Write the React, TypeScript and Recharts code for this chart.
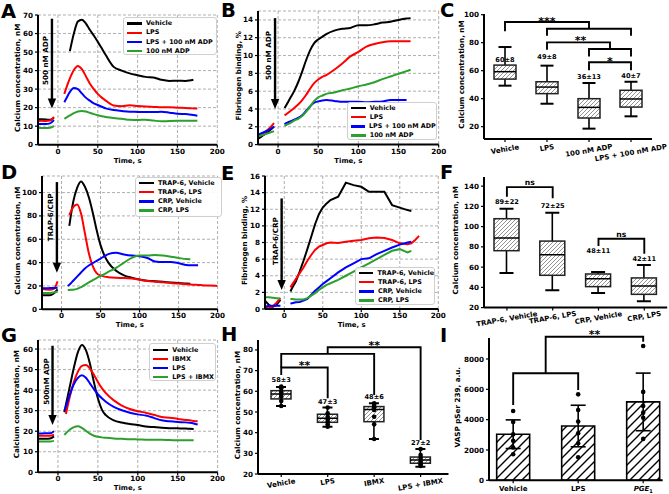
import React from "react";
import {
  LineChart,
  Line,
  ComposedChart,
  Bar,
  Scatter,
  ErrorBar,
  XAxis,
  YAxis,
  CartesianGrid,
  ReferenceLine,
  ReferenceDot,
  Legend,
  Label,
} from "recharts";

const FONT = "'DejaVu Sans', sans-serif";
const _ = null;

// time grid shared by the kinetics panels (s); 0 is the injection gap
const TIME = [-25, -20, -15, -10, -5, 0, 8, 10, 15, 20, 25, 30, 35, 40, 45, 50, 55, 60, 70, 80, 90, 100, 110, 120, 130, 140, 150, 160, 165, 170, 175, 180, 190, 200];

// A: calcium, 500 nM ADP
const A_VEHICLE = [13.7, 13.7, 13.6, 13.4, 14.4, _, _, _, 50.5, 60, 66.5, 67.5, 65.5, 62, 58.9, 55.5, 52, 48.4, 42, 40, 38.5, 37.5, 36.6, 36.3, 35, 34.4, 34.5, 34.4, 34.6, 35, _, _, _, _];
const A_LPS = [12.8, 12.9, 12.8, 13, 15, _, 27.4, 30, 35.8, 40.3, 42.5, 40.8, 37, 33, 30, 27.4, 25.4, 23.8, 21.2, 20.8, 21.3, 20.9, 20.6, 20.4, 20.2, 20.2, 20, 19.8, 19.7, 19.6, 19.5, _, _, _];
const A_LPS_ADP = [11.2, 11.2, 11.2, 11.5, 13.3, _, 22.9, 24.5, 28.5, 30.6, 30, 27.7, 25.4, 23.8, 22.3, 21.4, 20.5, 19.6, 18.7, 18.2, 17.8, 17.7, 17.6, 17.6, 17.8, 17.3, 16.7, 16.5, 16.3, 16, 15.6, _, _, _];
const A_ADP = [9.2, 9, 9, 9.1, 10, _, 14, 14.5, 15.8, 17, 17.9, 18.2, 17.9, 17.2, 16.5, 15.9, 15.4, 15, 14.4, 14, 13.4, 13.3, 13.5, 13, 12.6, 12.8, 12.9, 12.9, 12.9, 12.9, 12.9, _, _, _];

// B: fibrinogen binding, 500 nM ADP
const B_VEHICLE = [0.65, 0.95, 1.25, 1.6, 2.05, _, 4.1, 4.4, 5.2, 6.0, 7.0, 8.2, 9.5, 10.6, 11.4, 11.8, 12.1, 12.4, 12.8, 13.0, 13.1, 13.4, 13.4, 13.5, 13.7, 13.8, 14.0, 14.15, 14.2, _, _, _, _, _];
const B_LPS = [1.0, 1.2, 1.5, 1.9, 2.4, _, 3.3, 3.4, 3.75, 4.1, 4.5, 5.0, 5.6, 6.3, 6.9, 7.3, 7.6, 7.8, 8.4, 9.1, 9.9, 10.4, 11.0, 11.3, 11.5, 11.6, 11.6, 11.6, 11.6, _, _, _, _, _];
const B_LPS_ADP = [1.1, 1.3, 1.5, 1.7, 2.0, _, 2.3, 2.4, 2.6, 2.8, 3.0, 3.3, 3.8, 4.3, 4.7, 4.85, 4.95, 5.0, 4.9, 4.8, 4.8, 4.8, 4.75, 4.8, 4.85, 5.0, 5.0, 5.0, _, _, _, _, _, _];
const B_ADP = [0.9, 1.05, 1.2, 1.35, 1.5, _, 2.1, 2.2, 2.4, 2.7, 2.9, 3.2, 3.7, 4.3, 4.9, 5.3, 5.5, 5.7, 5.85, 6.1, 6.3, 6.55, 6.75, 7.0, 7.35, 7.65, 7.95, 8.25, 8.4, _, _, _, _, _];

// D: calcium, TRAP-6 / CRP
const D_TRAP_VEH = [12, 12, 12, 13.5, 17, _, _, 71.5, 92, 104, 109.5, 105, 96, 83, 68, 55, 46, 40, 33, 29, 27, 25.5, 24.5, 24, 23.5, 23, 22.5, 22, 21.8, _, _, _, _, _];
const D_TRAP_LPS = [17.3, 17, 16.8, 17.5, 24, _, _, 80.6, 87.5, 89.8, 82, 65, 48, 37, 31, 29, 28, 27.5, 27, 26.8, 26.3, 25.3, 24.3, 23.7, 23.2, 22.5, 22, 21.5, 21.2, 21, 20.8, 20.7, 20.4, 20];
const D_CRP_VEH = [18, 18, 18.2, 18.3, 18.5, _, 20, 21, 24.5, 28, 31.5, 35, 37.5, 39.5, 41.5, 43.5, 45.5, 47.3, 48.4, 47, 46, 45.5, 44, 41, 40.5, 40.5, 39.5, 38, 37.8, 37.8, 37.8, _, _, _];
const D_CRP_LPS = [14, 14, 14, 14.3, 15.3, _, 16.5, 16.6, 16.8, 17.5, 19, 21, 23, 25, 26.8, 28.5, 30.2, 32, 35.5, 40, 44, 46, 46, 46.5, 46, 45, 44, 43, 42.8, _, _, _, _, _];

// E: fibrinogen binding, TRAP-6 / CRP
const E_TRAP_VEH = [1.0, 0.5, 0.25, 0.5, 1.1, _, 2.1, 2.5, 3.3, 4.5, 5.8, 7.2, 8.7, 10.2, 11.4, 12.2, 12.7, 13.1, 13.5, 15.2, 14.9, 14.7, 14.1, 14.1, 14.1, 12.5, 12.2, 11.9, 11.8, _, _, _, _, _];
const E_TRAP_LPS = [0.15, 0.1, 0.3, 0.75, 1.3, _, 2.6, 2.9, 3.6, 4.3, 5.0, 5.8, 6.5, 7.1, 7.5, 7.7, 7.9, 8.0, 7.95, 8.1, 8.2, 8.3, 8.5, 8.6, 8.55, 8.3, 7.9, 7.8, 7.9, 8.3, 8.8, _, _, _];
const E_CRP_VEH = [0.3, 0.35, 0.4, 0.4, 0.4, _, 0.65, 0.7, 0.8, 0.85, 1.0, 1.2, 1.7, 2.2, 2.6, 3.0, 3.35, 3.7, 4.4, 5.0, 5.5, 6.0, 6.1, 6.6, 7.0, 7.4, 7.75, 8.0, 8.1, _, _, _, _, _];
const E_CRP_LPS = [1.4, 1.4, 1.35, 1.3, 1.25, _, 1.2, 1.2, 1.15, 1.15, 1.15, 1.3, 1.6, 1.9, 2.3, 2.6, 2.9, 3.1, 3.5, 4.0, 4.5, 5.0, 5.5, 6.0, 6.5, 7.0, 7.2, 6.8, 7.0, _, _, _, _, _];

// G: calcium, IBMX
const G_VEHICLE = [16.3, 16.3, 16.3, 16.4, 17.5, _, 29.2, 33, 42, 51, 58.5, 62, 59.5, 53, 44, 36, 30.5, 27.8, 25.3, 24.2, 23.5, 23, 22.3, 22, 21.7, 21.5, 21.4, 21.3, 21.2, 21.1, _, _, _, _];
const G_IBMX = [17.8, 17.8, 17.8, 17.8, 18.3, _, _, 28.4, 37, 44, 49, 51.8, 52.2, 50.5, 47.5, 44, 41, 38.5, 35, 32.5, 30.8, 29.7, 29, 28, 26.9, 26.6, 26, 25.5, 25.3, 25, 24.8, _, _, _];
const G_LPS = [18.9, 18.9, 19, 19, 20, _, 30, 32, 38, 43, 46, 47.3, 46, 43.3, 40.5, 38, 36, 34.3, 31.8, 30.2, 29, 28.2, 27.6, 26.5, 25.3, 24.8, 24.5, 24.3, 24.1, 23.8, 23.3, _, _, _];
const G_LPS_IBMX = [15, 15, 15, 15, 15.3, _, 18.2, 19, 20.8, 22, 22.4, 21.6, 20.2, 18.8, 17.8, 17.3, 17, 16.8, 16.5, 16.3, 16.1, 16, 15.9, 15.8, 15.8, 15.7, 15.6, 15.6, 15.6, 15.6, _, _, _, _];

// C: box plot stats
const C_CATS = ["Vehicle", "LPS", "100 nM ADP", "LPS + 100 nM ADP"];
const C_MIN = [49.3, 36.4, 18.6, 27.4];
const C_Q1 = [54, 43.6, 26.2, 34];
const C_MED = [59.3, 48.3, 33.8, 39.8];
const C_Q3 = [64, 52.1, 40, 46];
const C_MAX = [76.9, 63.6, 51.2, 52.1];
const C_TEXT = ["60±8", "49±8", "36±13", "40±7"];

// F: box plot stats
const F_CATS = ["TRAP-6, Vehicle", "TRAP-6, LPS", "CRP, Vehicle", "CRP, LPS"];
const F_MIN = [54.2, 37.1, 34.5, 26.2];
const F_Q1 = [76.2, 51.9, 40.7, 33.1];
const F_MED = [88.7, 72.3, 48.6, 41.4];
const F_Q3 = [107.8, 85.7, 53.2, 49.3];
const F_MAX = [117.6, 113.7, 55.2, 62.1];
const F_TEXT = ["89±22", "72±25", "48±11", "42±11"];

// H: box plot stats + individual points
const H_CATS = ["Vehicle", "LPS", "IBMX", "LPS + IBMX"];
const H_MIN = [52.9, 42.9, 36.9, 23.5];
const H_Q1 = [56.3, 45, 45.3, 25.2];
const H_MED = [58.7, 46.9, 51.2, 26.8];
const H_Q3 = [60.3, 48.9, 52.6, 28.2];
const H_MAX = [62.1, 52.1, 54.2, 32.1];
const H_TEXT = ["58±3", "47±3", "48±6", "27±2"];
const H_PTS_VEHICLE = [62.3, 61.5, 59.8, 58.5, 57.4, 55.3, 52.9];
const H_PTS_LPS = [52.1, 49.4, 47.7, 46.5, 45.3, 44, 42.9];
const H_PTS_IBMX = [54.2, 53.4, 52.1, 51, 47.7, 44, 36.9];
const H_PTS_LPS_IBMX = [32.1, 29.2, 27.9, 26.8, 25.6, 24.7, 23.9];

// I: VASP bars
const I_CATS = ["Vehicle", "LPS", "PGE1"];
const I_MEAN = [3040, 3580, 5170];
const I_SD = [945, 1370, 1900];
const I_PTS_VEHICLE = [4570, 3850, 3030, 2600, 2160, 1720];
const I_PTS_LPS = [5670, 4640, 3870, 3100, 2440, 1520];
const I_PTS_PGE = [8860, 5830, 4900, 4460, 4130, 2730];

const K = "#000000";
const RED = "#ff0000";
const BLUE = "#0000ff";
const GRN = "#2ca02c";

const YW = 40;
const MT = 10;
const MR = 24;
const XH = 30;

const TICK = { fontSize: 7.2, fontWeight: 700, fill: "#000", fontFamily: FONT };
const TXT = { fontFamily: FONT, fontWeight: 700, fill: "#000" };

function yLabel(text: string, dx: number, ph: number) {
  return (
    <Label
      content={() => {
        const x = YW + dx;
        const y = MT + ph / 2 - 2;
        return (
          <text x={x} y={y} transform={`rotate(-90 ${x} ${y})`} textAnchor="middle" dominantBaseline="central" style={{ ...TXT, fontSize: 7.2 }}>
            {text}
          </text>
        );
      }}
    />
  );
}

function xLabel(text: string, pw: number, ph: number) {
  return (
    <Label
      content={() => (
        <text x={YW + pw / 2} y={MT + ph + 16} textAnchor="middle" dominantBaseline="central" style={{ ...TXT, fontSize: 6.9 }}>
          {text}
        </text>
      )}
    />
  );
}

const arrowShape = (text: string, shift: number) => (p: any) => {
  const { x1, y1, x2, y2 } = p;
  const head = 10;
  const hw = 4.2;
  const tx = x1 - 6.5;
  const ty = (y1 + y2) / 2 + shift;
  return (
    <g>
      <line x1={x1} y1={y1} x2={x2} y2={y2 - head + 1} stroke="#000" strokeWidth={2.4} />
      <polygon points={`${x2 - hw},${y2 - head} ${x2 + hw},${y2 - head} ${x2},${y2}`} fill="#000" />
      <text x={tx} y={ty} transform={`rotate(-90 ${tx} ${ty})`} textAnchor="middle" dominantBaseline="central" style={{ ...TXT, fontSize: 7.2 }}>
        {text}
      </text>
    </g>
  );
};

function LegendBox({ series, w, h }: any) {
  return (
    <div style={{ width: w, height: h, boxSizing: "border-box", background: "rgba(255,255,255,0.9)", border: "1px solid #cfcfcf", borderRadius: 3, padding: "1px 0 0 3px" }}>
      {series.map((s: any) => (
        <div key={s.name} style={{ display: "flex", alignItems: "center", height: 9.1, whiteSpace: "nowrap" }}>
          <span style={{ display: "inline-block", width: 15, height: 2.2, background: s.color, marginRight: 4 }} />
          <span style={{ fontFamily: FONT, fontWeight: 700, fontSize: 6.4, color: "#000", lineHeight: 1 }}>{s.name}</span>
        </div>
      ))}
    </div>
  );
}

function TimePanel({ rc, yMax, yTicks, series, yText, yDx, legend, arrow, curve }: any) {
  const pw = rc.r - rc.l;
  const ph = rc.b - rc.t;
  const data = TIME.map((t, i) => {
    const row: any = { t };
    series.forEach((s: any, k: number) => {
      row["s" + k] = s.values[i];
    });
    return row;
  });
  return (
    <div style={{ position: "absolute", left: rc.l - YW, top: rc.t - MT }}>
      <LineChart width={pw + YW + MR} height={ph + MT + XH} data={data} margin={{ top: MT, right: MR, bottom: 0, left: 0 }}>
        <CartesianGrid stroke="#9a9a9a" strokeDasharray="3 2" strokeWidth={0.8} />
        <XAxis
          dataKey="t"
          type="number"
          domain={[-25, 200]}
          ticks={[0, 50, 100, 150, 200]}
          allowDataOverflow
          interval={0}
          height={XH}
          tick={TICK}
          tickSize={3}
          tickMargin={1}
          tickLine={{ stroke: "#000", strokeWidth: 1.2 }}
          axisLine={{ stroke: "#000", strokeWidth: 2 }}
          label={xLabel("Time, s", pw, ph)}
        />
        <YAxis
          type="number"
          domain={[0, yMax]}
          ticks={yTicks}
          allowDataOverflow
          interval={0}
          width={YW}
          tick={TICK}
          tickSize={3}
          tickMargin={2}
          tickLine={{ stroke: "#000", strokeWidth: 1.2 }}
          axisLine={{ stroke: "#000", strokeWidth: 2 }}
          label={yLabel(yText, yDx, ph)}
        />
        <ReferenceLine
          segment={[{ x: arrow.t, y: arrow.y1 }, { x: arrow.t, y: arrow.y2 }]}
          ifOverflow="visible"
          shape={arrowShape(arrow.text, arrow.shift)}
        />
        {series.map((s: any, k: number) => (
          <Line
            key={s.name}
            dataKey={"s" + k}
            name={s.name}
            type={curve || "monotone"}
            stroke={s.color}
            strokeWidth={2}
            dot={false}
            activeDot={false}
            connectNulls={false}
            isAnimationActive={false}
          />
        ))}
        <Legend
          layout="vertical"
          align="center"
          verticalAlign="middle"
          wrapperStyle={{ left: legend.x - (rc.l - YW), top: legend.y - (rc.t - MT), width: legend.w, height: legend.h }}
          content={() => <LegendBox series={series} w={legend.w} h={legend.h} />}
        />
      </LineChart>
    </div>
  );
}

const boxShape = (capW: number) => (p: any) => {
  const { x, y, width, height, payload } = p;
  const top = Math.min(y, y + height);
  const bot = Math.max(y, y + height);
  const lo = payload.min;
  const hi = payload.max;
  const py = (v: number) => bot - ((bot - top) * (v - lo)) / (hi - lo);
  const cx = x + width / 2;
  const q1 = py(payload.q1);
  const q3 = py(payload.q3);
  const md = py(payload.med);
  return (
    <g>
      <line x1={cx} x2={cx} y1={top} y2={q3} stroke="#000" strokeWidth={1.6} />
      <line x1={cx} x2={cx} y1={q1} y2={bot} stroke="#000" strokeWidth={1.6} />
      <line x1={cx - capW / 2} x2={cx + capW / 2} y1={top} y2={top} stroke="#000" strokeWidth={2} />
      <line x1={cx - capW / 2} x2={cx + capW / 2} y1={bot} y2={bot} stroke="#000" strokeWidth={2} />
      <rect x={x} y={q3} width={width} height={q1 - q3} fill="url(#hatchBox)" stroke="#222" strokeWidth={1.5} />
      <line x1={x} x2={x + width} y1={md} y2={md} stroke="#000" strokeWidth={1.5} />
    </g>
  );
};

const dotShape = (p: any) => <circle cx={p.cx} cy={p.cy} r={2.3} fill="#000" />;

const textShape = (text: string, size: number) => (p: any) => (
  <text x={p.cx} y={p.cy} textAnchor="middle" dominantBaseline="central" fill="#000" style={{ ...TXT, fontSize: size }}>
    {text}
  </text>
);

const rotTick = (cats: string[], shift: number) => (p: any) => {
  const i = Math.round(p.payload.value);
  const text = cats[i] ?? "";
  const w = text.length * 4.3;
  const cy = p.y + shift + w * 0.087;
  return (
    <text x={p.x} y={cy} transform={`rotate(-10 ${p.x} ${cy})`} textAnchor="middle" dominantBaseline="central" style={{ ...TXT, fontSize: 7 }}>
      {text}
    </text>
  );
};

// all significance brackets and their marks of one panel: the reference
// segment spans the corners of every point, inner points are mapped linearly
function annotations(paths: number[][][], marks: any[]) {
  const all = [...paths.flat(), ...marks.map((m) => [m.x, m.y])];
  const xs = all.map((q) => q[0]);
  const ys = all.map((q) => q[1]);
  const x0 = Math.min(...xs);
  const x1 = Math.max(...xs);
  const y0 = Math.min(...ys);
  const y1 = Math.max(...ys);
  const shape = (p: any) => {
    const px = (v: number) => p.x1 + ((v - x0) / (x1 - x0)) * (p.x2 - p.x1);
    const py = (v: number) => p.y1 + ((v - y0) / (y1 - y0)) * (p.y2 - p.y1);
    return (
      <g>
        {paths.map((path, a) => (
          <polyline
            key={a}
            points={path.map((q) => `${px(q[0])},${py(q[1])}`).join(" ")}
            fill="none"
            stroke="#000000"
            strokeWidth={1.9}
            strokeLinejoin="miter"
          />
        ))}
        {marks.map((m, k) => {
          const dy = m.text.includes("*") ? m.size * 0.28 : 0;
          return (
            <text key={k} x={px(m.x)} y={py(m.y) + dy} textAnchor="middle" dominantBaseline="central" fill="#000000" style={{ ...TXT, fontSize: m.size }}>
              {m.text}
            </text>
          );
        })}
      </g>
    );
  };
  return <ReferenceLine segment={[{ x: x0, y: y0 }, { x: x1, y: y1 }]} ifOverflow="visible" shape={shape} />;
}

function BoxPanel({ rc, xDomain, yDomain, yTicks, cats, mins, q1s, meds, q3s, maxs, texts, textAt, paths, marks, pts, boxW, capW, yText, yDx, tickShift }: any) {
  const pw = rc.r - rc.l;
  const ph = rc.b - rc.t;
  const data = cats.map((c: string, i: number) => ({
    x: i,
    range: [mins[i], maxs[i]],
    min: mins[i],
    q1: q1s[i],
    med: meds[i],
    q3: q3s[i],
    max: maxs[i],
  }));
  const ptData = pts ? pts.flatMap((arr: number[], i: number) => arr.map((v) => ({ x: i, y: v }))) : [];
  return (
    <div style={{ position: "absolute", left: rc.l - YW, top: rc.t - MT }}>
      <ComposedChart width={pw + YW + MR} height={ph + MT + XH} data={data} margin={{ top: MT, right: MR, bottom: 0, left: 0 }}>
        <XAxis
          dataKey="x"
          type="number"
          domain={xDomain}
          ticks={cats.map((c: string, i: number) => i)}
          allowDataOverflow
          interval={0}
          height={XH}
          tick={rotTick(cats, tickShift)}
          tickSize={3}
          tickMargin={2}
          tickLine={{ stroke: "#000", strokeWidth: 1.2 }}
          axisLine={{ stroke: "#000", strokeWidth: 2 }}
        />
        <YAxis
          type="number"
          domain={yDomain}
          ticks={yTicks}
          allowDataOverflow
          interval={0}
          width={YW}
          tick={TICK}
          tickSize={3}
          tickMargin={2}
          tickLine={{ stroke: "#000", strokeWidth: 1.2 }}
          axisLine={{ stroke: "#000", strokeWidth: 2 }}
          label={yLabel(yText, yDx, ph)}
        />
        <Bar dataKey="range" barSize={boxW} shape={boxShape(capW)} isAnimationActive={false} />
        {pts ? <Scatter data={ptData} dataKey="y" shape={dotShape} isAnimationActive={false} /> : null}
        {texts.map((t: string, i: number) => (
          <ReferenceDot key={`l${i}`} x={i} y={textAt[i]} r={0} ifOverflow="visible" shape={textShape(t, 6.6)} />
        ))}
        {annotations(paths, marks)}
      </ComposedChart>
    </div>
  );
}

const iTick = (p: any) => {
  const i = Math.round(p.payload.value);
  const y = p.y + 5.5;
  if (i === 2) {
    return (
      <text x={p.x} y={y} textAnchor="middle" style={{ ...TXT, fontSize: 7 }}>
        <tspan fontStyle="italic">PGE</tspan>
        <tspan dy={2} fontSize={5}>1</tspan>
      </text>
    );
  }
  return (
    <text x={p.x} y={y} textAnchor="middle" style={{ ...TXT, fontSize: 7 }}>
      {I_CATS[i]}
    </text>
  );
};

function BarPanel() {
  const rc = { l: 489.3, t: 338, r: 663, b: 480.3 };
  const pw = rc.r - rc.l;
  const ph = rc.b - rc.t;
  const data = I_CATS.map((c, i) => ({ x: i, mean: I_MEAN[i], sd: I_SD[i] }));
  const pts = [I_PTS_VEHICLE, I_PTS_LPS, I_PTS_PGE].flatMap((arr, i) => arr.map((v) => ({ x: i, y: v })));
  return (
    <div style={{ position: "absolute", left: rc.l - YW, top: rc.t - MT }}>
      <ComposedChart width={pw + YW + MR} height={ph + MT + XH} data={data} margin={{ top: MT, right: MR, bottom: 0, left: 0 }}>
        <XAxis
          dataKey="x"
          type="number"
          domain={[-0.372, 2.3]}
          ticks={[0, 1, 2]}
          allowDataOverflow
          interval={0}
          height={XH}
          tick={iTick}
          tickSize={3}
          tickMargin={2}
          tickLine={{ stroke: "#000", strokeWidth: 1.2 }}
          axisLine={{ stroke: "#000", strokeWidth: 2 }}
        />
        <YAxis
          type="number"
          domain={[0, 9385]}
          ticks={[0, 2000, 4000, 6000, 8000]}
          allowDataOverflow
          interval={0}
          width={YW}
          tick={TICK}
          tickSize={3}
          tickMargin={2}
          tickLine={{ stroke: "#000", strokeWidth: 1.2 }}
          axisLine={{ stroke: "#000", strokeWidth: 2 }}
          label={yLabel("VASP pSer 239, a.u.", -31, ph)}
        />
        <Bar dataKey="mean" barSize={33} fill="url(#hatchBar)" stroke="#000" strokeWidth={1.6} isAnimationActive={false}>
          <ErrorBar dataKey="sd" width={7.5} stroke="#000" strokeWidth={1.6} direction="y" />
        </Bar>
        <Scatter data={pts} dataKey="y" shape={dotShape} isAnimationActive={false} />
        {annotations(
          [
            [[0, 4966], [0, 7057], [1, 7057], [1, 5955]],
            [[0.5, 7057], [0.5, 9470], [2, 9470], [2, 9141]],
          ],
          [{ x: 1.25, y: 9846, text: "**", size: 11 }]
        )}
      </ComposedChart>
    </div>
  );
}

const SER_A = [
  { name: "Vehicle", color: K, values: A_VEHICLE },
  { name: "LPS", color: RED, values: A_LPS },
  { name: "LPS + 100 nM ADP", color: BLUE, values: A_LPS_ADP },
  { name: "100 nM ADP", color: GRN, values: A_ADP },
];
const SER_B = [
  { name: "Vehicle", color: K, values: B_VEHICLE },
  { name: "LPS", color: RED, values: B_LPS },
  { name: "LPS + 100 nM ADP", color: BLUE, values: B_LPS_ADP },
  { name: "100 nM ADP", color: GRN, values: B_ADP },
];
const SER_D = [
  { name: "TRAP-6, Vehicle", color: K, values: D_TRAP_VEH },
  { name: "TRAP-6, LPS", color: RED, values: D_TRAP_LPS },
  { name: "CRP, Vehicle", color: BLUE, values: D_CRP_VEH },
  { name: "CRP, LPS", color: GRN, values: D_CRP_LPS },
];
const SER_E = [
  { name: "TRAP-6, Vehicle", color: K, values: E_TRAP_VEH },
  { name: "TRAP-6, LPS", color: RED, values: E_TRAP_LPS },
  { name: "CRP, Vehicle", color: BLUE, values: E_CRP_VEH },
  { name: "CRP, LPS", color: GRN, values: E_CRP_LPS },
];
const SER_G = [
  { name: "Vehicle", color: K, values: G_VEHICLE },
  { name: "IBMX", color: RED, values: G_IBMX },
  { name: "LPS", color: BLUE, values: G_LPS },
  { name: "LPS + IBMX", color: GRN, values: G_LPS_IBMX },
];

const LETTERS = [
  { t: "A", x: 1, y: 17.5 },
  { t: "B", x: 221, y: 17 },
  { t: "C", x: 440, y: 17 },
  { t: "D", x: 1, y: 179 },
  { t: "E", x: 221, y: 179.5 },
  { t: "F", x: 440, y: 179 },
  { t: "G", x: 1, y: 341.5 },
  { t: "H", x: 221, y: 340.5 },
  { t: "I", x: 440, y: 341.5 },
];

export default function App() {
  return (
    <div style={{ position: "fixed", left: 0, top: 0, width: 669, height: 494, background: "#fff", overflow: "hidden" }}>
      <svg width={0} height={0} style={{ position: "absolute" }}>
        <defs>
          <pattern id="hatchBox" patternUnits="userSpaceOnUse" width="4" height="4">
            <rect width="4" height="4" fill="#fff" />
            <path d="M-1,1 l2,-2 M0,4 l4,-4 M3,5 l2,-2" stroke="#777" strokeWidth="0.8" />
          </pattern>
          <pattern id="hatchBar" patternUnits="userSpaceOnUse" width="9" height="9">
            <rect width="9" height="9" fill="#fff" />
            <path d="M-2,2 l4,-4 M0,9 l9,-9 M7,11 l4,-4" stroke="#000" strokeWidth="1.4" />
          </pattern>
        </defs>
      </svg>
      <svg width={669} height={494} style={{ position: "absolute", left: 0, top: 0 }}>
        {LETTERS.map((l) => (
          <text key={l.t} x={l.x} y={l.y} style={{ fontFamily: FONT, fontWeight: 700, fontSize: 19.5, fill: "#000" }}>
            {l.t}
          </text>
        ))}
      </svg>

      <TimePanel
        rc={{ l: 37.7, t: 15, r: 217, b: 144.7 }}
        yMax={70}
        yTicks={[0, 10, 20, 30, 40, 50, 60, 70]}
        series={SER_A}
        yText="Calcium concentration, nM"
        yDx={-21}
        legend={{ x: 123, y: 17, w: 94, h: 38 }}
        arrow={{ t: -7.5, y1: 68, y2: 19.6, text: "500 nM ADP", shift: -3 }}
      />
      <TimePanel
        rc={{ l: 258.3, t: 11.1, r: 439, b: 144.7 }}
        yMax={15}
        yTicks={[0, 2, 4, 6, 8, 10, 12, 14]}
        series={SER_B}
        yText="Fibrinogen binding, %"
        yDx={-19.3}
        legend={{ x: 346.7, y: 101.7, w: 90, h: 38 }}
        arrow={{ t: -3.75, y1: 14.2, y2: 4.0, text: "500 nM ADP", shift: -8 }}
      />
      <BoxPanel
        rc={{ l: 484, t: 14.3, r: 652, b: 139.3 }}
        xDomain={[-0.5, 3.5]}
        yDomain={[11.2, 100.5]}
        yTicks={[20, 40, 60, 80, 100]}
        cats={C_CATS}
        mins={C_MIN}
        q1s={C_Q1}
        meds={C_MED}
        q3s={C_Q3}
        maxs={C_MAX}
        texts={C_TEXT}
        textAt={[67.9, 69.8, 55.5, 56]}
        paths={[
          [[0, 88.1], [0, 94.8], [2, 94.8], [2, 90]],
          [[1, 85], [1, 90], [3, 90], [3, 85]],
          [[1, 75], [1, 80.2], [2.5, 80.2], [2.5, 75.5]],
          [[2, 70.2], [2, 75.5], [3, 75.5], [3, 70.2]],
          [[2, 60.3], [2, 66], [3, 66], [3, 60.3]],
        ]}
        marks={[
          { x: 1, y: 97.6, text: "***", size: 11 },
          { x: 1.8, y: 84, text: "**", size: 11 },
          { x: 2.5, y: 69, text: "*", size: 11 },
        ]}
        boxW={22}
        capW={13}
        yText="Calcium concentration, nM"
        yDx={-23}
        tickShift={3}
      />
      <TimePanel
        rc={{ l: 41.7, t: 175.7, r: 217.3, b: 309 }}
        yMax={114.2}
        yTicks={[0, 20, 40, 60, 80, 100]}
        series={SER_D}
        yText="Calcium concentration, nM"
        yDx={-24.4}
        legend={{ x: 135, y: 176.7, w: 87, h: 40 }}
        arrow={{ t: -5.9, y1: 109, y2: 31.4, text: "TRAP-6/CRP", shift: -10 }}
      />
      <TimePanel
        rc={{ l: 265, t: 176, r: 438.3, b: 309 }}
        yMax={16}
        yTicks={[0, 2, 4, 6, 8, 10, 12, 14, 16]}
        series={SER_E}
        yText="Fibrinogen binding, %"
        yDx={-20}
        legend={{ x: 355, y: 266.7, w: 80, h: 38 }}
        arrow={{ t: -3.4, y1: 13.3, y2: 2.3, text: "TRAP-6/CRP", shift: -3 }}
        curve="linear"
      />
      <BoxPanel
        rc={{ l: 483.8, t: 176.7, r: 667, b: 307.3 }}
        xDomain={[-0.5, 3.5]}
        yDomain={[20, 149]}
        yTicks={[20, 40, 60, 80, 100, 120, 140]}
        cats={F_CATS}
        mins={F_MIN}
        q1s={F_Q1}
        meds={F_MED}
        q3s={F_Q3}
        maxs={F_MAX}
        texts={F_TEXT}
        textAt={[124.2, 120.3, 76.2, 67.7]}
        paths={[
          [[0, 129.5], [0, 139], [1, 139], [1, 128]],
          [[2, 80.8], [2, 88], [3, 88], [3, 73.3]],
        ]}
        marks={[
          { x: 0.5, y: 143.5, text: "ns", size: 7.7 },
          { x: 2.5, y: 92.5, text: "ns", size: 7.7 },
        ]}
        boxW={25}
        capW={14}
        yText="Calcium concentration, nM"
        yDx={-28.3}
        tickShift={1}
      />
      <TimePanel
        rc={{ l: 37.7, t: 340, r: 217.3, b: 472.3 }}
        yMax={64.4}
        yTicks={[0, 10, 20, 30, 40, 50, 60]}
        series={SER_G}
        yText="Calcium concentration, nM"
        yDx={-21.7}
        legend={{ x: 149.3, y: 343.3, w: 67, h: 38 }}
        arrow={{ t: -6.8, y1: 61.6, y2: 23, text: "500nM ADP", shift: -4 }}
      />
      <BoxPanel
        rc={{ l: 257.5, t: 340, r: 448, b: 474 }}
        xDomain={[-0.5, 3.6]}
        yDomain={[20, 84.8]}
        yTicks={[20, 30, 40, 50, 60, 70, 80]}
        cats={H_CATS}
        mins={H_MIN}
        q1s={H_Q1}
        meds={H_MED}
        q3s={H_Q3}
        maxs={H_MAX}
        texts={H_TEXT}
        textAt={[65.5, 55, 57.4, 34.8]}
        paths={[
          [[0, 67.9], [0, 71.5], [1, 71.5], [1, 56.6]],
          [[0, 71.5], [0, 78.1], [2, 78.1], [2, 58.2]],
          [[1, 78.1], [1, 81.3], [3, 81.3], [3, 36.5]],
        ]}
        marks={[
          { x: 0.5, y: 74, text: "**", size: 11 },
          { x: 2, y: 83.7, text: "**", size: 11 },
        ]}
        pts={[H_PTS_VEHICLE, H_PTS_LPS, H_PTS_IBMX, H_PTS_LPS_IBMX]}
        boxW={20}
        capW={10}
        yText="Calcium concentration, nM"
        yDx={-21}
        tickShift={2}
      />
      <BarPanel />
    </div>
  );
}
